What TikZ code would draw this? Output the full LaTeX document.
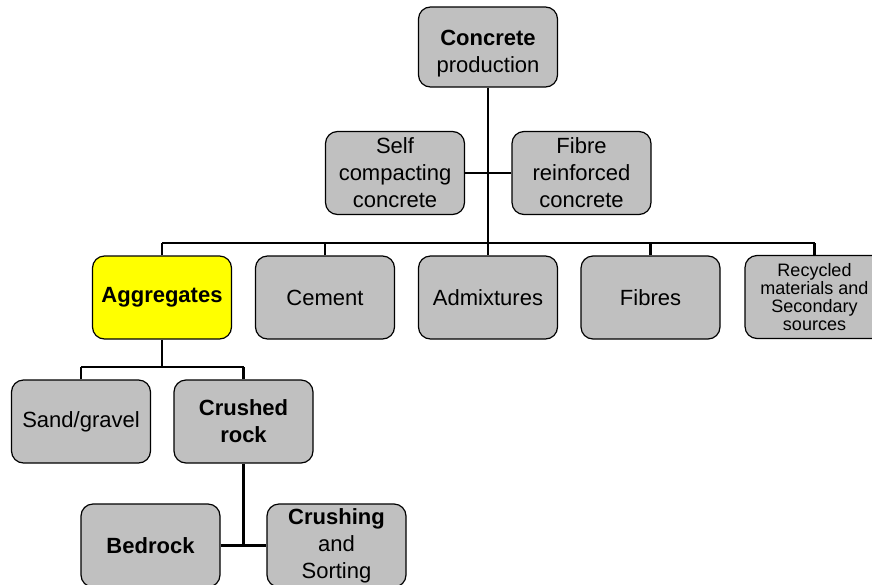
\documentclass[tikz,border=0pt]{standalone}
\usepackage{fontspec}
\setmainfont{Liberation Sans}
\begin{document}
\begin{tikzpicture}[x=1pt,y=-1pt,
  box/.style={draw=black, line width=1.2pt, rounded corners=12pt, fill=boxgray,
    minimum width=139pt, minimum height=83pt, align=center, inner sep=0pt,
    font=\fontsize{22}{27}\selectfont},
  small/.style={font=\fontsize{18}{18}\selectfont},
  conn/.style={draw=black, line width=2.8pt}]
\definecolor{boxgray}{HTML}{C0C0C0}
\definecolor{aggyellow}{HTML}{FFFF00}
\useasboundingbox (0,0) rectangle (872,584);
% nodes
\node[box, minimum height=80pt, text height=56pt] (cp) at (488,47) {\textbf{Concrete}\\production};
\node[box] (scc) at (395,173) {Self\\compacting\\concrete};
\node[box] (frc) at (581.5,173) {Fibre\\reinforced\\concrete};
\node[box, fill=aggyellow] (agg) at (162,297.5) {\textbf{Aggregates}};
\node[box] (cem) at (325,297.5) {Cement};
\node[box] (adm) at (488,297.5) {Admixtures};
\node[box] (fib) at (650.5,297.5) {Fibres};
\node[box, small] (rec) at (814.5,297) {Recycled\\materials and\\Secondary\\sources};
\node[box] (sand) at (81,421.5) {Sand/gravel};
\node[box] (crr) at (243.5,421.5) {\textbf{Crushed}\\\textbf{rock}};
\node[box] (bed) at (150.5,545.5) {\textbf{Bedrock}};
\node[box, text height=71pt] (cs) at (336.5,545.5) {\textbf{Crushing}\\and\\Sorting};
% bus coordinates
\coordinate (busL) at (162,243);
\coordinate (busR) at (814.5,243);
\coordinate (bus2L) at (81,367);
\coordinate (bus2R) at (243.5,367);
% connectors
\draw[conn] (cp.south) -- (cp.south |- busL);
\draw[conn] (scc.east) -- (scc.east -| cp.south);
\draw[conn] (frc.west) -- (frc.west -| cp.south);
\draw[conn] (busL) -- (busR);
\draw[conn] (agg.north) -- (busL);
\draw[conn] (cem.north) -- (cem.north |- busL);
\draw[conn] (adm.north) -- (adm.north |- busL);
\draw[conn] (fib.north) -- (fib.north |- busL);
\draw[conn] (rec.north) -- (busR);
\draw[conn] (agg.south) -- (agg.south |- bus2L);
\draw[conn] (bus2L) -- (bus2R);
\draw[conn] (sand.north) -- (bus2L);
\draw[conn] (crr.north) -- (bus2R);
\draw[conn] (crr.south) -- (crr.south |- bed.east);
\draw[conn] (bed.east) -- (cs.west);
\end{tikzpicture}
\end{document}
